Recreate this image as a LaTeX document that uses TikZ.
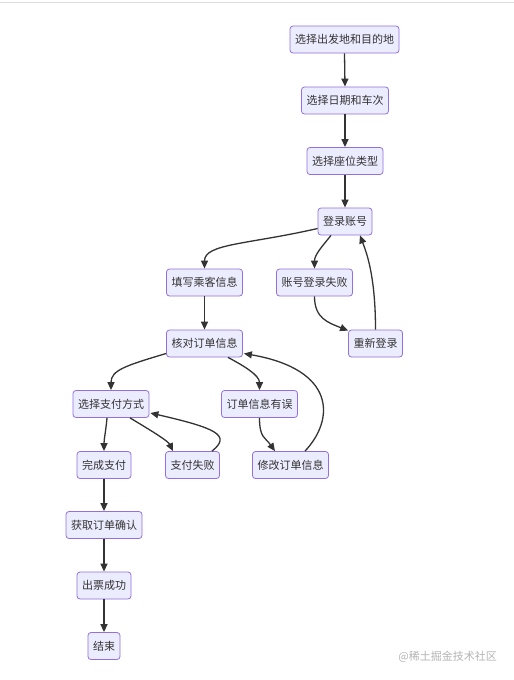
\documentclass[tikz,border=0pt]{standalone}
\usepackage{fontspec}
\newfontfamily\cjk{Noto Sans CJK SC}
\usetikzlibrary{arrows.meta,calc}
\definecolor{nodefill}{HTML}{ECECFF}
\definecolor{nodeborder}{HTML}{9370DB}
\definecolor{linecol}{HTML}{333333}
\definecolor{wmcol}{HTML}{B4B4B4}
\definecolor{topline}{HTML}{DDDDDD}
\begin{document}
\begin{tikzpicture}[x=1pt,y=-1pt,
  box/.style={draw=nodeborder, fill=nodefill, rounded corners=3pt, line width=0.8pt,
    minimum height=27pt, inner xsep=5pt, inner ysep=0pt, text=linecol,
    font=\cjk\fontsize{11}{13}\selectfont},
  flow/.style={draw=linecol, line width=1.3pt, -{Triangle[length=8pt,width=7pt]}}]
\useasboundingbox (0,0) rectangle (514,680);
\fill[white] (0,0) rectangle (514,680);
\coordinate (tl) at (0,2.5);
\coordinate (tr) at (514,2.5);
\draw[topline, line width=1.5pt] (tl) -- (tr);

\node[box] (n1) at (344.5,39.5) {选择出发地和目的地};
\node[box] (n2) at (345,100.5) {选择日期和车次};
\node[box] (n3) at (345,161) {选择座位类型};
\node[box] (n4) at (345,221.5) {登录账号};
\node[box] (n5) at (204.5,282.5) {填写乘客信息};
\node[box] (n6) at (314.5,282.5) {账号登录失败};
\node[box] (n7) at (375.5,343.5) {重新登录};
\node[box] (n8) at (204.5,343.5) {核对订单信息};
\node[box] (n9) at (111,404) {选择支付方式};
\node[box] (n10) at (259.5,404) {订单信息有误};
\node[box] (n11) at (104,465) {完成支付};
\node[box] (n12) at (192.5,465) {支付失败};
\node[box] (n13) at (290.5,465) {修改订单信息};
\node[box] (n14) at (104,525) {获取订单确认};
\node[box] (n15) at (104,585.5) {出票成功};
\node[box] (n16) at (104,646) {结束};

\node[text=wmcol, font=\cjk\fontsize{11}{13}\selectfont, anchor=east, inner sep=0pt] (wm) at (497,657) {@稀土掘金技术社区};

\draw[flow] (n1.south) -- (n2.north);
\draw[flow] (n2.south) -- (n3.north);
\draw[flow] (n3.south) -- (n4.north);
\draw[flow] ($(n4.west)+(0,7)$) .. controls +(-70,16) and +(0,-25) .. (n5.north);
\draw[flow] ($(n4.south)+(-14,0)$) .. controls +(-8,10) and +(0,-14) .. (n6.north);
\draw[flow] (n6.south) .. controls +(0,22) and +(-20,-8) .. ($(n7.north west)+(0,1)$);
\draw[flow] (n7.north) .. controls +(0,-55) and +(6,16) .. ($(n4.south)+(15,0)$);
\draw[flow] (n5.south) -- (n8.north);
\draw[flow] ($(n8.west)+(0,10)$) .. controls +(-40,12) and +(0,-20) .. (n9.north);
\draw[flow] ($(n8.south)+(23.5,0)$) .. controls +(15,8) and +(0,-15) .. (n10.north);
\draw[flow] (n10.south) .. controls +(0,20) and +(-10,-14) .. ($(n13.north)+(-15.5,0)$);
\draw[flow] ($(n13.north)+(14.5,0)$) .. controls +(30,-32) and +(92,16) .. ($(n8.east)+(1,10)$);
\draw[flow] ($(n9.south)+(-4,0)$) .. controls +(-1,12) and +(0,-12) .. (n11.north);
\draw[flow] ($(n9.south)+(19,0)$) .. controls +(25,15) and +(-5,-10) .. ($(n12.north)+(-19.5,0)$);
\draw[flow] ($(n12.north)+(19.5,0)$) .. controls +(20,-16) and +(65,15) .. ($(n9.east)+(1,9)$);
\draw[flow] (n11.south) -- (n14.north);
\draw[flow] (n14.south) -- (n15.north);
\draw[flow] (n15.south) -- (n16.north);
\end{tikzpicture}
\end{document}
